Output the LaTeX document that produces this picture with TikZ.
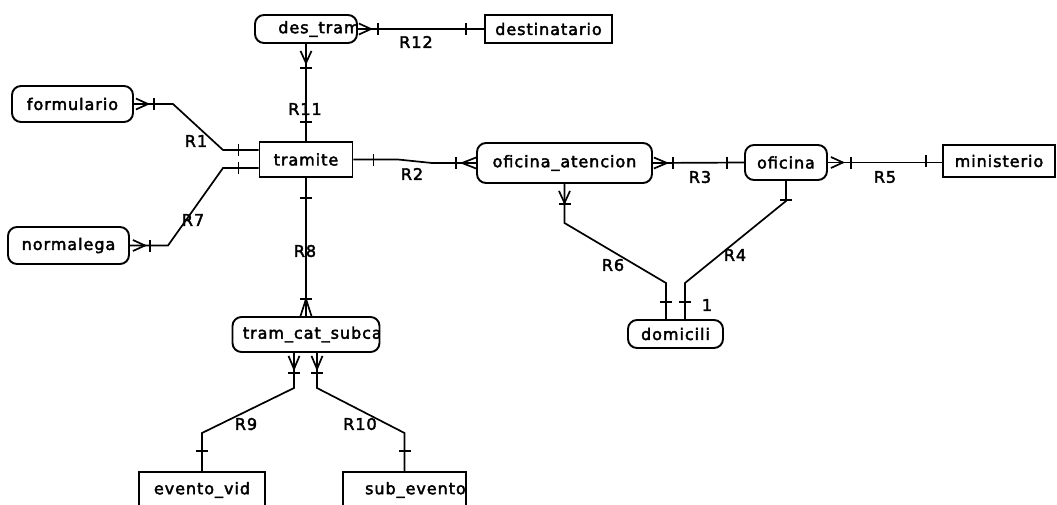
\documentclass[tikz,border=0pt]{standalone}
\usepackage{fontspec}
\newfontfamily\erfont[LetterSpace=6,FakeBold=2.5]{DejaVu Sans}
\newcommand\erf{\erfont\fontsize{16pt}{19pt}\selectfont}
% crow's foot: #1 anchor, #2 angle, #3 start offset, #4 length, #5 tick offset
\newcommand\crowft[5]{%
  \begin{scope}[shift={(#1)},rotate=#2]
    \draw[conn] (#3,5.5) -- (#3+#4,0) -- (#3,-5.5);
    \draw[conn] (#5,6) -- (#5,-6);
  \end{scope}}
% single bar: #1 anchor, #2 angle, #3 offset
\newcommand\onebar[3]{%
  \begin{scope}[shift={(#1)},rotate=#2]
    \draw[conn] (#3,6) -- (#3,-6);
  \end{scope}}
\begin{document}
\begin{tikzpicture}[x=1pt,y=-1pt,
  conn/.style={line width=1.7pt, line join=miter},
  ent/.style={draw, line width=1.9pt, inner sep=0pt, font=\erf},
  rent/.style={ent, rounded corners=9pt},
  lab/.style={inner sep=0pt, font=\erf},
  cliptext/.style={path picture={\node[anchor=west, inner sep=0pt, font=\erf] at ([xshift=#1]path picture bounding box.west) {\tcliptext};}}
]
\useasboundingbox (0,0) rectangle (1057,504);
\fill[white] (0,0) rectangle (1057,504);
\clip (0,0) rectangle (1057,504);

% entities
\def\tcliptext{des\_tram}
\node[rent, minimum width=102pt, minimum height=28pt, cliptext=12pt] (des) at (306,29) {};
\node[ent, minimum width=127pt, minimum height=28pt] (dest) at (548.5,29) {destinatario};
\node[rent, minimum width=121pt, minimum height=36pt] (form) at (72.5,104) {formulario};
\node[ent, minimum width=93pt, minimum height=35pt] (tram) at (306,159.5) {tramite};
\node[rent, minimum width=121pt, minimum height=37pt] (norm) at (68.5,245.5) {normalega};
\node[rent, minimum width=175pt, minimum height=40pt] (ofat) at (564.5,163) {oficina\_atencion};
\node[rent, minimum width=82pt, minimum height=35pt] (ofi) at (786,162.5) {oficina};
\node[ent, minimum width=112pt, minimum height=32pt] (min) at (999,161) {ministerio};
\node[rent, minimum width=95pt, minimum height=28pt] (dom) at (675.5,334) {domicili};
\def\tcliptext{tram\_cat\_subcat}
\node[rent, minimum width=147pt, minimum height=35pt, cliptext=9pt] (tcs) at (306,334.5) {};
\node[ent, minimum width=126pt, minimum height=36pt] (ev) at (202,490) {evento\_vid};
\def\tcliptext{sub\_evento}
\node[ent, minimum width=123pt, minimum height=36pt, cliptext=10pt] (sub) at (404.5,490) {};

% labels
\node[lab] (l12) at (416,42) {R12};
\node[lab] (l11) at (305,109) {R11};
\node[lab] (l1) at (196,141) {R1};
\node[lab] (l7) at (193,220) {R7};
\node[lab] (l2) at (412,174) {R2};
\node[lab] (l8) at (305,251) {R8};
\node[lab] (l3) at (700,177) {R3};
\node[lab] (l5) at (885,177) {R5};
\node[lab] (l6) at (613,265) {R6};
\node[lab] (l4) at (735,255) {R4};
\node[lab] (lone) at (707,305) {1};
\node[lab] (l9) at (246,424) {R9};
\node[lab] (l10) at (360,424) {R10};

% helper coordinates
\coordinate (tw1) at (tram.west |- 0,150);
\coordinate (tw2) at (tram.west |- 0,168);
\coordinate (dn1) at (dom.north -| 666,0);
\coordinate (dn2) at (dom.north -| 685,0);
\coordinate (ts1) at (tcs.south -| 294,0);
\coordinate (ts2) at (tcs.south -| 317,0);

% connectors
\draw[conn] (des.east) -- (dest.west);
\draw[conn] (des.south) -- (tram.north);
\draw[conn] (form.east) -- (173,104) -- (223,150) -- (tw1);
\draw[conn] (norm.east) -- (168,245.5) -- (223,168) -- (tw2);
\draw[conn] (tram.east) -- (398,159.5) -- (432,163) -- (ofat.west);
\draw[conn] (ofat.east) -- (ofi.west);
\draw[conn] (ofi.east) -- (ofi.east -| min.west);
\draw[conn] (ofat.south) -- (564.5,223) -- (666,283) -- (dn1);
\draw[conn] (ofi.south) -- (786,201) -- (685,283) -- (dn2);
\draw[conn] (tram.south) -- (tcs.north);
\draw[conn] (ts1) -- (294,388) -- (202,433) -- (ev.north);
\draw[conn] (ts2) -- (317,388) -- (404.5,433) -- (sub.north);

% ends
\crowft{des.east}{0}{1}{12}{20}
\onebar{dest.west}{180}{18}
\crowft{des.south}{-90}{7}{12}{24}
\onebar{tram.north}{90}{19}
\crowft{form.east}{0}{2}{12}{20}
\crowft{norm.east}{0}{3}{12}{20}
\onebar{tw1}{180}{20}
\onebar{tw2}{180}{20}
\onebar{tram.east}{0}{20}
\crowft{ofat.west}{180}{0}{14}{20}
\crowft{ofat.east}{0}{1}{13}{20}
\onebar{ofi.west}{180}{17}
\crowft{ofi.east}{0}{3}{12}{23}
\onebar{min.west}{180}{16}
\crowft{ofat.south}{-90}{7}{12}{20}
\onebar{ofi.south}{-90}{19}
\onebar{dn1}{90}{17}
\onebar{dn2}{90}{17}
\onebar{tram.south}{-90}{20}
\crowft{tcs.north}{90}{0}{17}{17}
\crowft{ts1}{-90}{3}{13}{20}
\crowft{ts2}{-90}{3}{13}{20}
\onebar{ev.north}{90}{20}
\onebar{sub.north}{90}{20}
\end{tikzpicture}
\end{document}
